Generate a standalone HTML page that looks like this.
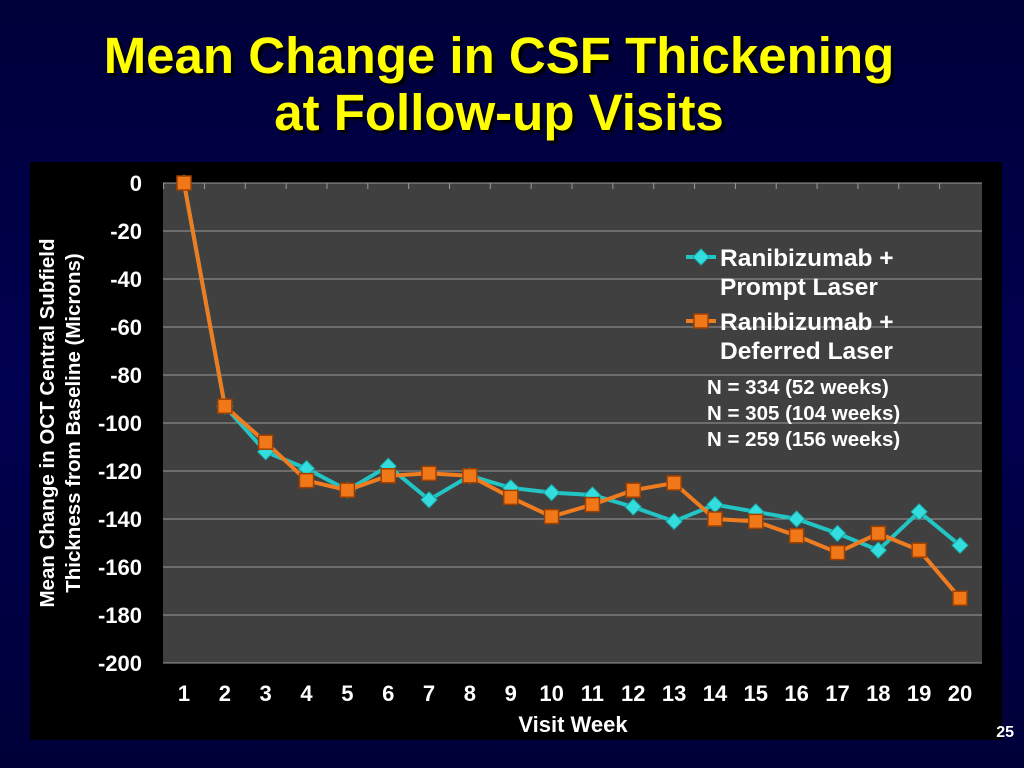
<!DOCTYPE html>
<html><head><meta charset="utf-8"><style>
html,body{margin:0;padding:0}
body{width:1024px;height:768px;overflow:hidden;background:linear-gradient(#00003a,#000050 50%,#000038);font-family:"Liberation Sans",sans-serif;position:relative}
.title{position:absolute;left:0;width:998px;text-align:center;color:#ffff00;font-weight:bold;font-size:51px;line-height:57px;top:27px;text-shadow:3px 3px 2px #000}
.pg{position:absolute;right:10px;top:724px;color:#fff;font-size:16px;font-weight:bold}
</style></head><body>
<div class="title">Mean Change in CSF Thickening<br>at Follow-up Visits</div>
<svg width="1024" height="768" style="position:absolute;left:0;top:0" id="chart"></svg>
<div class="pg">25</div>
<script>
const categories=[1,2,3,4,5,6,7,8,9,10,11,12,13,14,15,16,17,18,19,20];
const promptLaser=[0,-93,-112,-119,-128,-118,-132,-122,-127,-129,-130,-135,-141,-134,-137,-140,-146,-153,-137,-151];
const deferredLaser=[0,-93,-108,-124,-128,-122,-121,-122,-131,-139,-134,-128,-125,-140,-141,-147,-154,-146,-153,-173];
const yTicks=[0,-20,-40,-60,-80,-100,-120,-140,-160,-180,-200];
const NS="http://www.w3.org/2000/svg";
const svg=document.getElementById('chart');
function mk(t,a,p){const e=document.createElementNS(NS,t);for(const k in a)e.setAttribute(k,a[k]);(p||svg).appendChild(e);return e;}
const L=163,R=982,T=183,B=663;
const y=v=>T+(0-v)/200*(B-T);
const x=i=>184+i*(960-184)/19;
let e;
e=mk('rect',{x:30,y:162,width:972,height:578,fill:'#000'});

e=mk('rect',{x:L,y:T,width:R-L,height:B-T,fill:'#404040'});

yTicks.forEach(v=>{
 e=mk('line',{x1:L,x2:R,y1:y(v),y2:y(v),stroke:'#9a9a9a','stroke-width':1});
 
 e=mk('text',{x:142,y:y(v)+8,fill:'#fff','font-size':22,'font-weight':'bold','text-anchor':'end','font-family':'Liberation Sans'});
 e.textContent=v;
 
});
categories.forEach((c,i)=>{
 e=mk('line',{x1:x(i)-20.4,x2:x(i)-20.4,y1:T,y2:T+6,stroke:'#9a9a9a'});
 
 e=mk('text',{x:x(i),y:701,fill:'#fff','font-size':22,'font-weight':'bold','text-anchor':'middle','font-family':'Liberation Sans'});
 e.textContent=c;
 
});
e=mk('text',{x:573,y:732,fill:'#fff','font-size':22,'font-weight':'bold','text-anchor':'middle','font-family':'Liberation Sans'});
e.textContent='Visit Week';
const yt=mk('text',{transform:'translate(54,423) rotate(-90)',fill:'#fff','font-size':20.5,'font-weight':'bold','text-anchor':'middle','font-family':'Liberation Sans'});

[['Mean Change in OCT Central Subfield',0],['Thickness from Baseline (Microns)',26]].forEach(([t,dy])=>{const s=mk('tspan',{x:0,y:dy},yt);s.textContent=t;});
function series(vals,col,name,marker){
 const pts=vals.map((v,i)=>x(i)+','+y(v)).join(' ');
 e=mk('polyline',{points:pts,fill:'none',stroke:col,'stroke-width':4});
 
 vals.forEach((v,i)=>{e=marker(x(i),y(v));});
}
const diamond=(cx,cy)=>mk('polygon',{points:`${cx},${cy-8} ${cx+8},${cy} ${cx},${cy+8} ${cx-8},${cy}`,fill:'#33dddd',stroke:'#18a8a8'});
const square=(cx,cy)=>mk('rect',{x:cx-7,y:cy-7,width:14,height:14,fill:'#f07818',stroke:'#a04000','stroke-width':1.5});
series(promptLaser,'#22c4c4','prompt-laser',diamond);
series(deferredLaser,'#f07c20','deferred-laser',square);
e=mk('line',{x1:686,x2:716,y1:257,y2:257,stroke:'#22c4c4','stroke-width':4});
diamond(701,257);
e=mk('line',{x1:686,x2:716,y1:321,y2:321,stroke:'#f07c20','stroke-width':4});
square(701,321);
[['Ranibizumab +',266],['Prompt Laser',295],['Ranibizumab +',330],['Deferred Laser',359]].forEach(([t,yy])=>{
 e=mk('text',{x:720,y:yy,fill:'#fff','font-size':24.5,'font-weight':'bold','font-family':'Liberation Sans'});e.textContent=t;
 
});
[['N = 334 (52 weeks)',394],['N = 305 (104 weeks)',420],['N = 259 (156 weeks)',446]].forEach(([t,yy])=>{
 e=mk('text',{x:707,y:yy,fill:'#fff','font-size':20.5,'font-weight':'bold','font-family':'Liberation Sans'});e.textContent=t;
 
});
</script>
</body></html>
